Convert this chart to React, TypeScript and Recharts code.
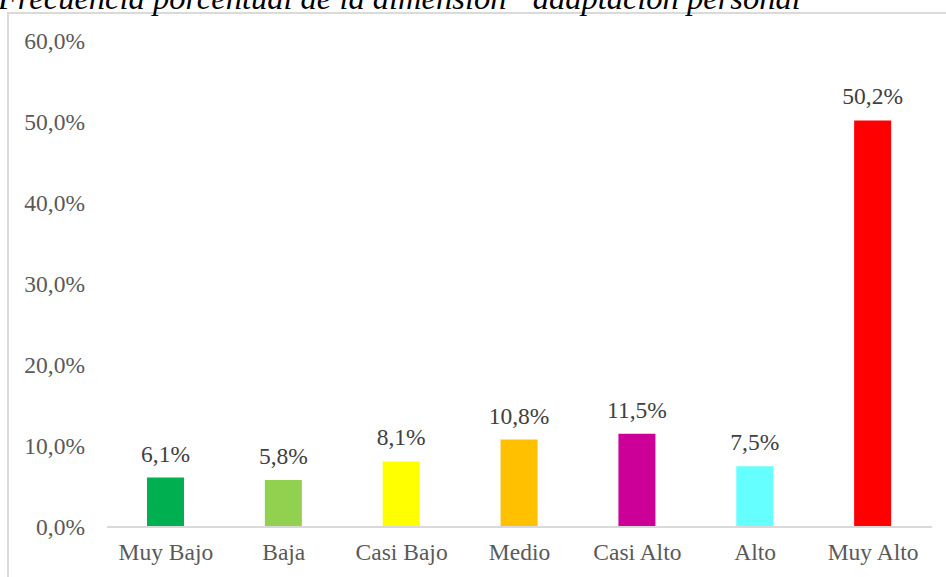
import React from 'react';
import { BarChart, Bar, XAxis, YAxis, Cell, LabelList } from 'recharts';

const categories = ['Muy Bajo', 'Baja', 'Casi Bajo', 'Medio', 'Casi Alto', 'Alto', 'Muy Alto'];
const percents = [6.1, 5.8, 8.1, 10.8, 11.5, 7.5, 50.2];
const barColors = ['#00B050', '#92D050', '#FFFF00', '#FFC000', '#CC0099', '#66FFFF', '#FF0000'];
const yTicks = [0, 10, 20, 30, 40, 50, 60];
const title = 'Frecuencia porcentual de la dimensión “adaptación personal”';

const FONT = '"Liberation Serif", "Times New Roman", serif';

// comma decimal, like the source
const fmt = (v: number) => `${Number(v).toFixed(1).replace('.', ',')}%`;

export default function App() {
  const data = categories.map((name, i) => ({ name, value: percents[i] }));

  return (
    <div
      style={{
        position: 'absolute',
        left: 0,
        top: 0,
        width: 946,
        height: 577,
        overflow: 'hidden',
        background: '#fff',
        fontFamily: FONT,
      }}
    >
      {/* chart frame, runs off the right and bottom edges */}
      <div
        style={{
          position: 'absolute',
          left: 7,
          top: 12,
          width: 1000,
          height: 700,
          border: '2px solid #dadada',
          boxSizing: 'border-box',
        }}
      />
      <div
        style={{
          position: 'absolute',
          left: -2,
          top: -18,
          fontSize: 32.5,
          lineHeight: '32.5px',
          fontStyle: 'italic',
          whiteSpace: 'nowrap',
          color: '#000',
        }}
      >
        {title}
      </div>
      <div style={{ position: 'absolute', left: 0, top: 0 }}>
        <BarChart
          width={946}
          height={577}
          data={data}
          margin={{ top: 41, right: 14, left: 0, bottom: 0 }}
        >
          <XAxis
            dataKey="name"
            height={50}
            axisLine={{ stroke: '#d9d9d9', strokeWidth: 2 }}
            tickLine={false}
            tickSize={0}
            tickMargin={16}
            tick={{ fill: '#595959', fontSize: 23.5, fontFamily: FONT }}
            interval={0}
          />
          <YAxis
            width={107}
            domain={[0, 60]}
            ticks={yTicks}
            axisLine={false}
            tickLine={false}
            tickSize={0}
            tickMargin={22}
            tickFormatter={fmt}
            tick={{ fill: '#595959', fontSize: 23.5, fontFamily: FONT }}
          />
          <Bar dataKey="value" barSize={37} isAnimationActive={false}>
            {data.map((d, i) => (
              <Cell key={d.name} fill={barColors[i]} />
            ))}
            <LabelList
              dataKey="value"
              position="top"
              offset={16}
              formatter={(v: any) => fmt(v)}
              style={{ fill: '#404040', fontSize: 23.5, fontFamily: FONT }}
            />
          </Bar>
        </BarChart>
      </div>
    </div>
  );
}
